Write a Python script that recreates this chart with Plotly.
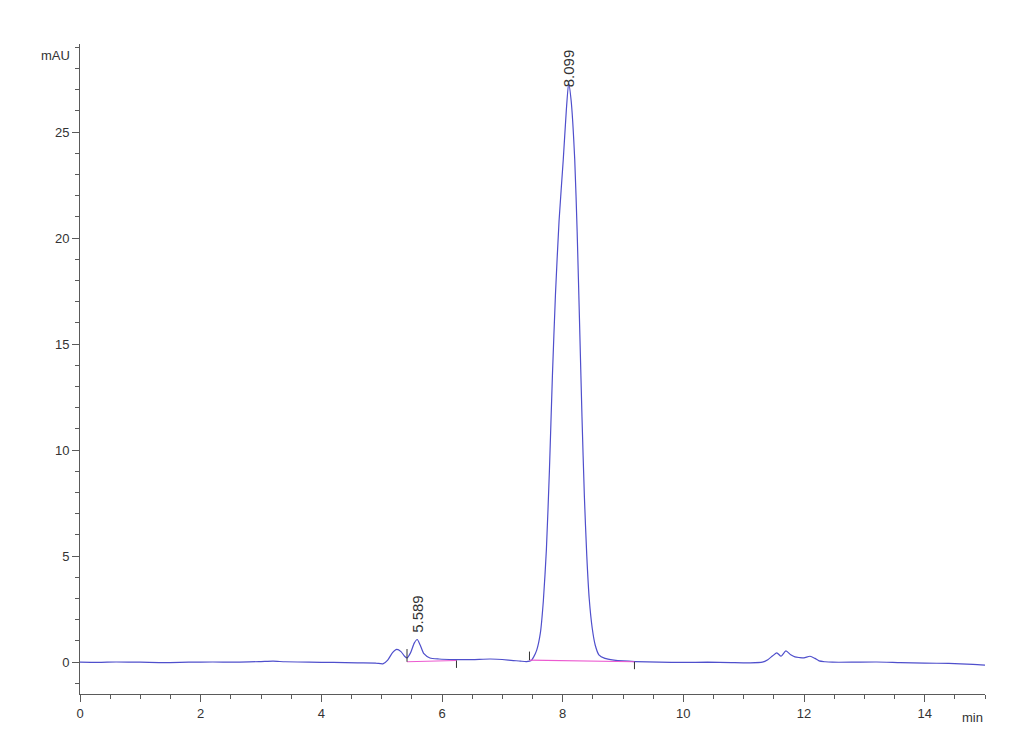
import plotly.graph_objects as go

# Chromatogram trace (time in min, absorbance in mAU)
time_min = [0.0, 0.3, 0.6, 1.0, 1.4, 1.8, 2.2, 2.6, 3.0, 3.2, 3.4, 3.8, 4.2, 4.6, 4.9,
            5.02, 5.1, 5.18, 5.25, 5.32, 5.38, 5.42, 5.48, 5.54, 5.589, 5.64, 5.7, 5.8,
            5.95, 6.2, 6.5, 6.8, 7.1, 7.3, 7.4, 7.48, 7.52, 7.57, 7.63, 7.68, 7.73, 7.78,
            7.83, 7.88, 7.94, 8.01, 8.06, 8.099, 8.14, 8.2, 8.24, 8.28, 8.32, 8.36, 8.40,
            8.44, 8.49, 8.54, 8.6, 8.7, 8.85, 9.0, 9.2, 9.6, 10.0, 10.4, 10.8, 11.1, 11.31,
            11.4, 11.48, 11.55, 11.62, 11.7, 11.78, 11.85, 11.92, 12.0, 12.1, 12.18,
            12.25, 12.35, 12.47, 12.8, 13.2, 13.6, 14.0, 14.4, 14.8, 15.0]
absorbance = [0.0, -0.01, 0.01, 0.0, -0.02, 0.0, 0.01, 0.0, 0.03, 0.05, 0.02, 0.0, -0.01, -0.03, -0.04,
              -0.08, 0.1, 0.45, 0.6, 0.5, 0.28, 0.2, 0.45, 0.9, 1.07, 0.8, 0.4, 0.2,
              0.15, 0.12, 0.12, 0.15, 0.1, 0.05, 0.03, 0.08, 0.25, 0.57, 1.37, 2.9, 5.3, 9.0,
              13.5, 17.3, 20.8, 23.7, 26.0, 27.3, 26.5, 23.7, 20.3, 16.0, 11.6, 7.8, 5.0,
              3.0, 1.6, 0.8, 0.35, 0.18, 0.1, 0.06, 0.03, 0.0, -0.01, 0.0, -0.02, -0.03, 0.0,
              0.12, 0.3, 0.44, 0.28, 0.53, 0.35, 0.25, 0.22, 0.2, 0.28, 0.18,
              0.06, 0.02, 0.0, 0.0, 0.01, -0.02, -0.04, -0.06, -0.1, -0.14]

# Integration baselines
base1_t = [5.42, 6.24]
base1_v = [0.02, 0.08]
base2_t = [7.45, 9.19]
base2_v = [0.1, 0.02]

# Integration event marks (time, level, direction)
event_t = [5.42, 6.24, 7.45, 9.19]
event_v = [0.02, 0.08, 0.1, 0.02]
event_len = [0.6, -0.35, 0.4, -0.35]

# Peak labels
peak_t = [5.589, 8.099]
peak_label = ["5.589", "8.099"]
peak_label_y = [1.3, 27.0]

x_ticks = [0, 2, 4, 6, 8, 10, 12, 14]
y_ticks = [0, 5, 10, 15, 20, 25]

BLUE = "#4f4fcc"
MAGENTA = "#ec5ad0"
AXIS = "#5a5a5a"
FONT = "Liberation Sans, Arial, sans-serif"

fig = go.Figure()
fig.add_trace(go.Scatter(x=time_min, y=absorbance, mode="lines",
                         line=dict(color=BLUE, width=1.2, shape="spline", smoothing=0.6),
                         hoverinfo="skip", showlegend=False))
for bt, bv in [(base1_t, base1_v), (base2_t, base2_v)]:
    fig.add_trace(go.Scatter(x=bt, y=bv, mode="lines",
                             line=dict(color=MAGENTA, width=1.2),
                             hoverinfo="skip", showlegend=False))
ex, ey = [], []
for t, v, d in zip(event_t, event_v, event_len):
    ex += [t, t, None]
    ey += [v, v + d, None]
fig.add_trace(go.Scatter(x=ex, y=ey, mode="lines", line=dict(color="#333333", width=1),
                         hoverinfo="skip", showlegend=False))

for t, lab, ly in zip(peak_t, peak_label, peak_label_y):
    fig.add_annotation(x=t, y=ly, text=lab, textangle=-90, showarrow=False,
                       xanchor="center", yanchor="bottom",
                       font=dict(family=FONT, size=15, color="#333333"))

fig.add_annotation(x=0, y=1, xref="paper", yref="paper", text="mAU", showarrow=False,
                   xanchor="right", yanchor="top", xshift=-8, yshift=-2,
                   font=dict(family=FONT, size=13, color="#333333"))
fig.add_annotation(x=1, y=0, xref="paper", yref="paper", text="min", showarrow=False,
                   xanchor="right", yanchor="top", yshift=-14,
                   font=dict(family=FONT, size=13, color="#333333"))

fig.update_xaxes(range=[0, 15], tickvals=x_ticks, ticktext=[str(v) for v in x_ticks],
                 showline=True, linecolor=AXIS, linewidth=1, ticks="outside",
                 ticklen=7, tickcolor=AXIS, showgrid=False, zeroline=False,
                 minor=dict(dtick=0.5, tick0=0, ticks="outside", ticklen=4, tickcolor=AXIS),
                 tickfont=dict(family=FONT, size=13, color="#333333"))
fig.update_yaxes(range=[-1.5, 29.15], tickvals=y_ticks, ticktext=[str(v) for v in y_ticks],
                 showline=True, linecolor=AXIS, linewidth=1, ticks="outside",
                 ticklen=7, tickcolor=AXIS, showgrid=False, zeroline=False,
                 minor=dict(dtick=1, tick0=0, ticks="outside", ticklen=4, tickcolor=AXIS),
                 tickfont=dict(family=FONT, size=13, color="#333333"))

fig.update_layout(width=1030, height=755, plot_bgcolor="white", paper_bgcolor="white",
                  margin=dict(l=72, r=53, t=36, b=69), font=dict(family=FONT))
fig.write_html("out.html")
